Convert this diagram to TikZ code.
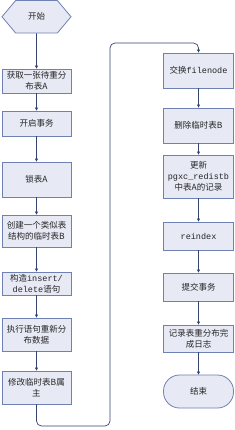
\documentclass[tikz,border=0pt]{standalone}
\usepackage{fontspec}
\setmainfont{Noto Sans CJK SC}
\newfontfamily\codefont{Liberation Mono}
\usetikzlibrary{positioning,arrows.meta,shapes.symbols}
\definecolor{cFill}{HTML}{E7E9F4}
\definecolor{cLine}{HTML}{6F80B2}
\definecolor{cArrow}{HTML}{34446F}
\definecolor{cText}{HTML}{262626}
\tikzset{
  blk/.style={draw=cLine, fill=cFill, line width=0.8pt, align=center,
              text=cText, inner sep=1pt, font=\fontsize{8.5}{11}\selectfont},
  proc/.style={blk, rectangle, text width=65pt, minimum width=69pt},
  hexa/.style={blk, signal, signal to=east and west,
               signal pointer angle=100, minimum width=69pt},
  term/.style={blk, rectangle, rounded corners=16pt, minimum width=70pt},
  ar/.style={-{Triangle[length=3pt,width=3pt]}, line width=0.7pt, cArrow},
}
\newcommand{\cd}[1]{{\codefont #1}}

\begin{document}
\begin{tikzpicture}[x=1pt,y=1pt]
    \useasboundingbox (0,0) rectangle (234,-430);
    % left column
    \node[hexa, minimum height=32.5pt] (start) at (36.5,-16.75) {开始};
    \node[proc, minimum height=24pt] (b1) at (36.5,-81) {获取一张待重分\\布表A};
    \node[proc, minimum height=25pt] (b2) at (36.5,-123.5) {开启事务};
    \node[proc, minimum height=35pt] (b3) at (36.5,-179.5) {锁表A};
    \node[proc, minimum height=32pt] (b4) at (36.5,-231) {创建一个类似表\\结构的临时表B};
    \node[proc, minimum height=23pt] (b5) at (36.5,-283.5) {构造\cd{insert/}\\\cd{delete}语句};
    \node[proc, minimum height=33pt] (b6) at (36.5,-334.5) {执行语句重新分\\布数据};
    \node[proc, minimum height=33pt] (b7) at (36.5,-387.5) {修改临时表B属\\主};
    % right column
    \node[proc, minimum width=70pt, minimum height=35pt] (r1) at (198.5,-70.5) {交换\cd{filenode}};
    \node[proc, minimum width=70pt, minimum height=35pt] (r2) at (198.5,-125.5) {删除临时表B};
    \node[proc, minimum width=70pt, minimum height=43pt] (r3) at (198.5,-176.5) {更新\\\cd{pgxc\_redistb}\\中表A的记录};
    \node[proc, minimum width=70pt, minimum height=28pt] (r4) at (198.5,-236) {\cd{reindex}};
    \node[proc, minimum width=70pt, minimum height=28pt] (r5) at (198.5,-287) {提交事务};
    \node[proc, minimum width=70pt, minimum height=27pt] (r6) at (198.5,-338.5) {记录表重分布完\\成日志};
    \node[term, minimum height=33pt] (stop) at (198.5,-391.5) {结束};
    \coordinate (loopb) at (110,-426);
    \coordinate (loopt) at (110,-43);
    % connectors
    \draw[ar] (start) -- (b1);
    \draw[ar] (b1) -- (b2);
    \draw[ar] (b2) -- (b3);
    \draw[ar] (b3) -- (b4);
    \draw[ar] (b4) -- (b5);
    \draw[ar] (b5) -- (b6);
    \draw[ar] (b6) -- (b7);
    \draw[ar, rounded corners=5pt] (b7.south) |- (loopb) -- (loopt) -| (r1.north);
    \draw[ar] (r1) -- (r2);
    \draw[ar] (r2) -- (r3);
    \draw[ar] (r3) -- (r4);
    \draw[ar] (r4) -- (r5);
    \draw[ar] (r5) -- (r6);
    \draw[ar] (r6) -- (stop);
\end{tikzpicture}
\end{document}
